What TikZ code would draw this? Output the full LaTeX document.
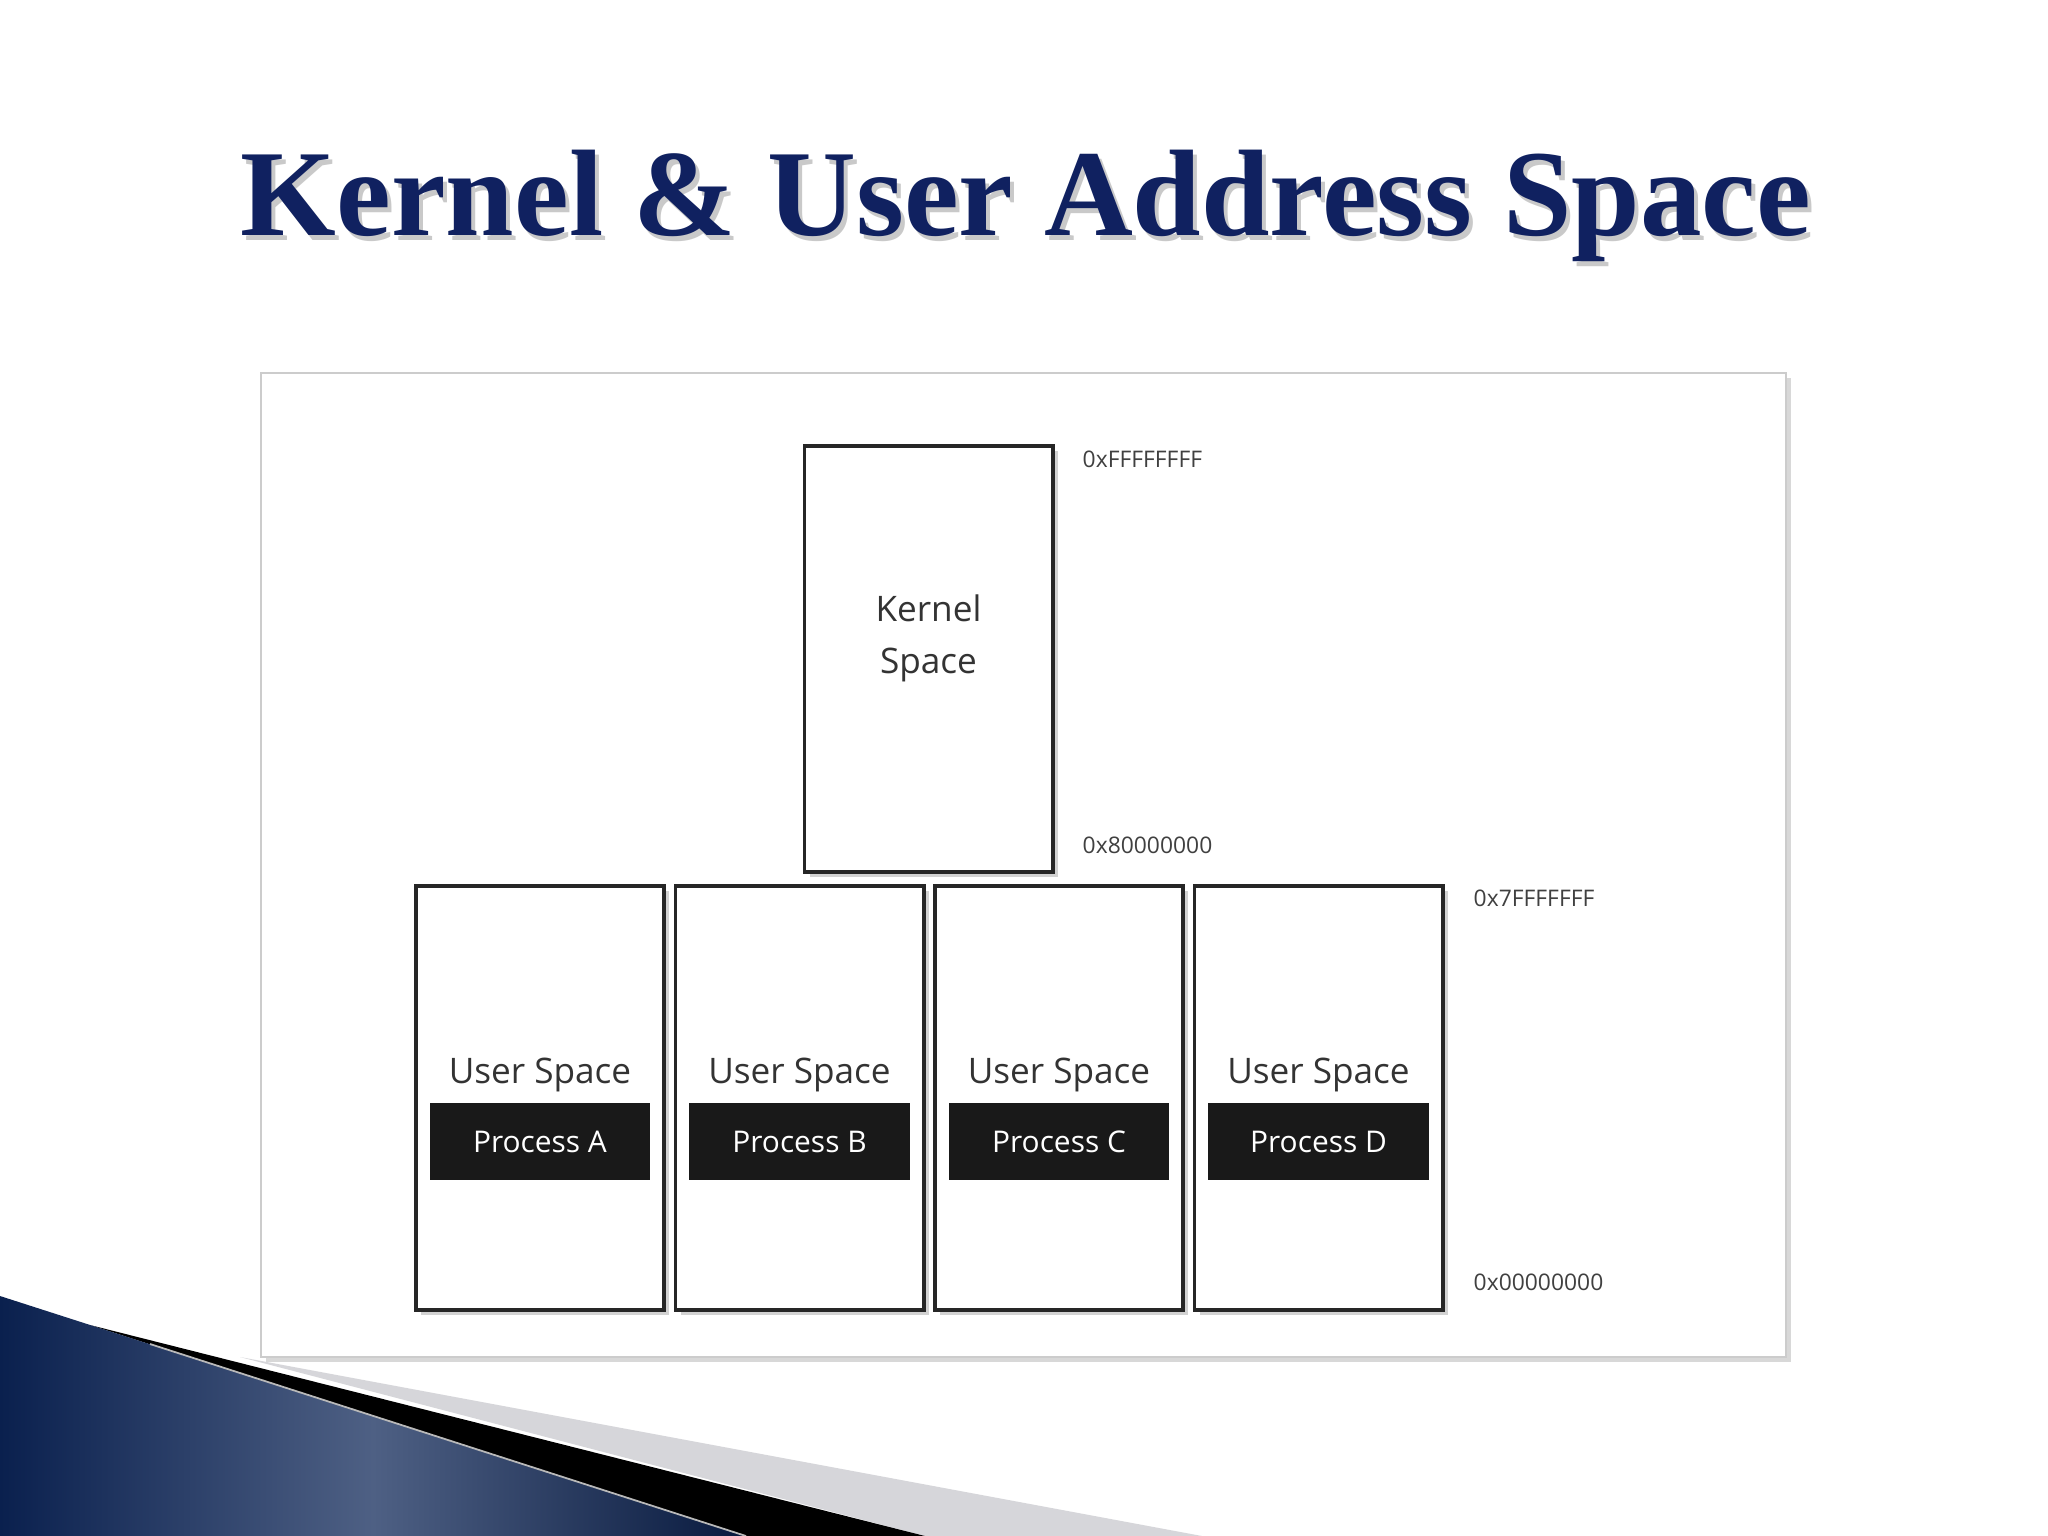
\documentclass[tikz,border=0pt]{standalone}
\usepackage{fontspec}
\setmainfont{Open Sans}
\newfontfamily\titlefont{Liberation Serif}
\usepackage{xcolor}
\usepackage{tikz}
\usetikzlibrary{positioning,shadows}
\definecolor{TitleNavy}{RGB}{16,33,96}
\definecolor{SwooshNavy}{RGB}{10,32,78}
\definecolor{SwooshSteel}{RGB}{78,96,132}
\definecolor{StripeGrey}{RGB}{214,214,218}
\tikzset{
  memcell/.style={draw=black!85, line width=1.1pt, fill=white, minimum width=2.48cm, minimum height=4.24cm,
    inner sep=0pt, drop shadow={shadow xshift=1.5pt, shadow yshift=-1.5pt, opacity=0.35}},
  proctag/.style={fill=black!90, text=white, minimum width=2.2cm, minimum height=0.77cm, inner sep=0pt,
    font=\fontsize{8.5}{10}\selectfont},
  spacetxt/.style={font=\fontsize{10}{14.8}\selectfont, text=black!80, align=center, inner sep=0pt},
  addr/.style={anchor=west, font=\fontsize{6.5}{8}\selectfont, text=black!75, inner sep=0pt},
  titletxt/.style={font=\titlefont\bfseries\fontsize{35}{40}\selectfont, anchor=base, inner sep=0pt},
}

\begin{document}
\begin{tikzpicture}[x=0.01cm, y=-0.01cm]
  \useasboundingbox (0,0) rectangle (2048,1536);
  \fill[white] (0,0) rectangle (2048,1536);
  % title
  \node[titletxt, text=black!35, opacity=0.6] (titleshadow) at (1030,240) {Kernel \& User Address Space};
  \node[titletxt, text=TitleNavy] (title) at (1026,235) {Kernel \& User Address Space};
  % panel
  \draw[draw=black!20, line width=0.8pt, fill=white,
    drop shadow={shadow xshift=1.5pt, shadow yshift=-1.5pt, opacity=0.3}] (261,373) rectangle (1786,1357);
  % kernel half
  \node[memcell, minimum height=4.26cm] (kern) at (928.5,659) {};
  \node[spacetxt] (kerntxt) at (928.5,638) {Kernel\\Space};
  % user half, one per process
  \foreach \p/\cx in {A/540, B/799.5, C/1059, D/1318.5} {
    \node[memcell] (usr\p) at (\cx,1098) {};
    \node[spacetxt, anchor=base] (usrtxt\p) at (\cx,1083) {User Space};
    \node[proctag] (proc\p) at (\cx,1141.5) {Process \p};
  }
  \node[addr] (hiK) at (1082,459) {0xFFFFFFFF};
  \node[addr] (loK) at (1082,845) {0x80000000};
  \node[addr] (hiU) at (1473,898) {0x7FFFFFFF};
  \node[addr] (loU) at (1473,1282) {0x00000000};
  % corner swoosh
  \fill[StripeGrey] (240,1357) -- (1202,1536) -- (925,1536) -- cycle;
  \fill[black] (90,1325) -- (925,1536) -- (746,1536) -- cycle;
  \shade[left color=SwooshNavy, right color=SwooshNavy!80!black, middle color=SwooshSteel]
    (0,1296) -- (746,1536) -- (0,1536) -- cycle;
  \draw[gray!55, line width=0.5pt] (150,1344) -- (746,1536);
\end{tikzpicture}
\end{document}
